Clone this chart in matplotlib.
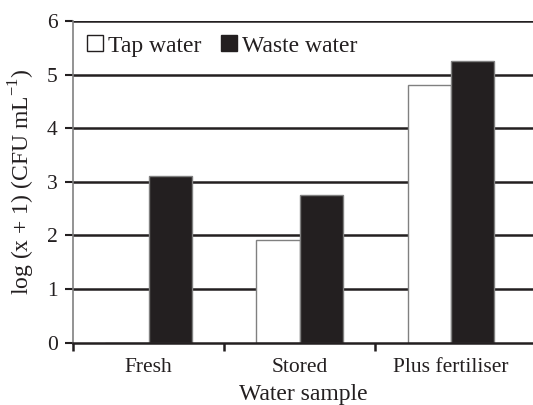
import matplotlib
matplotlib.use("Agg")
import matplotlib.pyplot as plt
import numpy as np
from matplotlib.lines import Line2D

categories = ["Fresh", "Stored", "Plus fertiliser"]
tap_water = [0.0, 1.92, 4.80]
waste_water = [3.10, 2.75, 5.25]
series_names = ["Tap water", "Waste water"]
y_ticks = [0, 1, 2, 3, 4, 5, 6]

plt.rcParams['font.family'] = ['Liberation Serif', 'DejaVu Serif']
plt.rcParams['mathtext.fontset'] = 'custom'
plt.rcParams['mathtext.rm'] = 'Liberation Serif'

fig = plt.figure(figsize=(5.33, 4.05), dpi=100)
ax = fig.add_axes([0.137, 0.154, 0.863, 0.794])

x = np.arange(len(categories))
w = 0.285
ink = '#231f20'
ax.bar(x - w/2, tap_water, w, color='white', edgecolor='#808080', linewidth=1.0, zorder=3)
ax.bar(x + w/2, waste_water, w, color=ink, edgecolor='#808080', linewidth=1.0, zorder=3)

ax.set_ylim(0, 6)
ax.set_xlim(-0.5, 2.546)
ax.set_yticks(y_ticks)
for yv in y_ticks[1:]:
    ax.axhline(yv, color=ink, lw=1.8, zorder=1)

ax.set_xticks(x)
ax.set_xticklabels(categories, fontsize=15.5, color=ink)
ax.tick_params(axis='x', which='major', length=0, pad=11)
ax.set_xticks([-0.5, 0.5, 1.5], minor=True)
ax.tick_params(axis='x', which='minor', length=6, width=1.8, color=ink, direction='out')
ax.tick_params(axis='y', length=6, width=1.5, color=ink, labelsize=15.5, labelcolor=ink, pad=5)

for s in ['top', 'right']:
    ax.spines[s].set_visible(False)
ax.spines['left'].set_color('#808080')
ax.spines['left'].set_linewidth(1.2)
ax.spines['bottom'].set_color(ink)
ax.spines['bottom'].set_linewidth(1.8)
ax.spines['bottom'].set_zorder(4)

ax.set_xlabel("Water sample", fontsize=17, color=ink, labelpad=5)
ax.set_ylabel(r"log (x + 1) (CFU mL$^{\mathregular{-1}}$)", fontsize=17, color=ink, labelpad=7)

handles = [Line2D([], [], marker='s', linestyle='none', markersize=11, markerfacecolor='white', markeredgecolor=ink, markeredgewidth=1.0),
           Line2D([], [], marker='s', linestyle='none', markersize=11, markerfacecolor=ink, markeredgecolor=ink)]
leg = ax.legend(handles, series_names, loc='upper left', ncol=2, frameon=False, fontsize=17,
                handlelength=0.7, handletextpad=0.2, columnspacing=0.8,
                bbox_to_anchor=(0.0, 1.0), borderaxespad=0.2)
for t in leg.get_texts():
    t.set_color(ink)

fig.savefig("out.png", dpi=100)
